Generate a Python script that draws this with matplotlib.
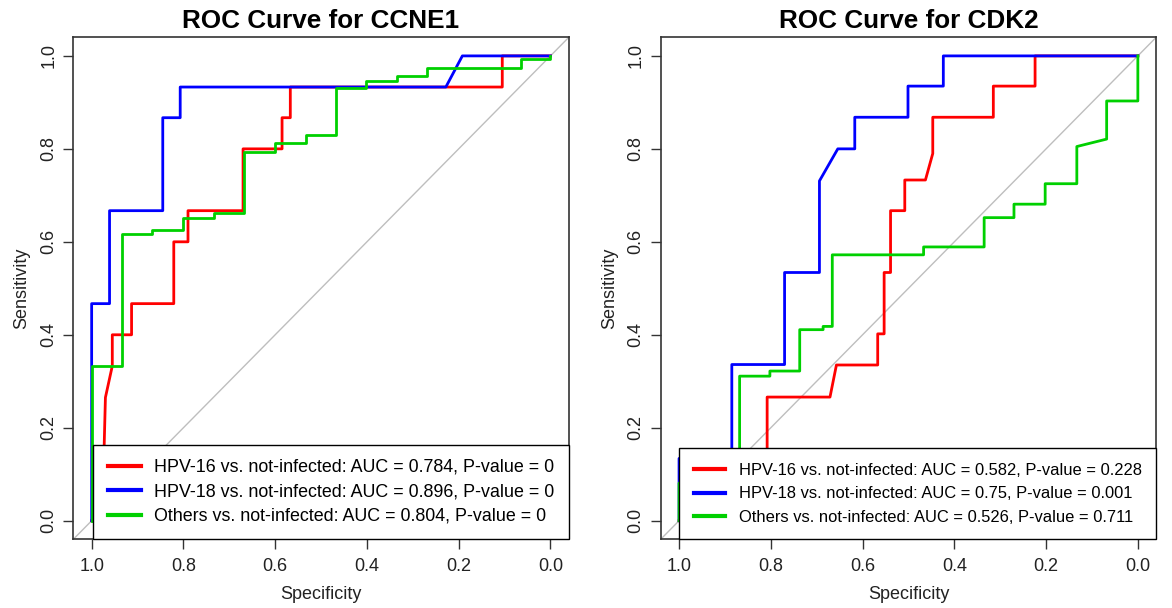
import matplotlib
matplotlib.use("Agg")
import matplotlib.pyplot as plt

plt.rcParams['font.family'] = ['Liberation Sans', 'DejaVu Sans']

# ---- data (specificity, sensitivity) ----
# CCNE1
ccne1_hpv16_spec = [1.0, 0.985, 0.973, 0.970, 0.955, 0.955, 0.913, 0.913, 0.821, 0.821, 0.790, 0.790,
                    0.670, 0.670, 0.585, 0.585, 0.567, 0.567, 0.105, 0.105, 0.0]
ccne1_hpv16_sens = [0.0, 0.0, 0.150, 0.265, 0.333, 0.400, 0.400, 0.467, 0.467, 0.600, 0.600, 0.667,
                    0.667, 0.800, 0.800, 0.867, 0.867, 0.933, 0.933, 1.0, 1.0]

ccne1_hpv18_spec = [1.0, 1.0, 0.961, 0.961, 0.845, 0.845, 0.807, 0.807, 0.228, 0.192, 0.0]
ccne1_hpv18_sens = [0.0, 0.467, 0.467, 0.667, 0.667, 0.867, 0.867, 0.933, 0.933, 1.0, 1.0]

ccne1_other_spec = [1.0, 1.0, 0.933, 0.933, 0.868, 0.868, 0.801, 0.801, 0.734, 0.734, 0.667, 0.667,
                    0.600, 0.600, 0.533, 0.533, 0.467, 0.467, 0.402, 0.402, 0.334, 0.334, 0.268, 0.268,
                    0.065, 0.065, 0.0, 0.0]
ccne1_other_sens = [0.0, 0.333, 0.333, 0.617, 0.617, 0.625, 0.625, 0.652, 0.652, 0.662, 0.662, 0.794,
                    0.794, 0.812, 0.812, 0.830, 0.830, 0.930, 0.930, 0.946, 0.946, 0.957, 0.957, 0.974,
                    0.974, 0.993, 0.993, 1.0]

# CDK2
cdk2_hpv16_spec = [1.0, 0.808, 0.808, 0.671, 0.657, 0.567, 0.567, 0.553, 0.553, 0.539, 0.539, 0.508,
                   0.508, 0.463, 0.447, 0.447, 0.315, 0.315, 0.224, 0.224, 0.0]
cdk2_hpv16_sens = [0.0, 0.0, 0.266, 0.266, 0.335, 0.335, 0.402, 0.402, 0.534, 0.534, 0.667, 0.667,
                   0.733, 0.733, 0.790, 0.868, 0.868, 0.935, 0.935, 1.0, 1.0]

cdk2_hpv18_spec = [1.0, 1.0, 0.885, 0.885, 0.770, 0.770, 0.694, 0.694, 0.654, 0.617, 0.617, 0.501,
                   0.501, 0.424, 0.424, 0.0]
cdk2_hpv18_sens = [0.0, 0.134, 0.134, 0.336, 0.336, 0.534, 0.534, 0.731, 0.800, 0.800, 0.868, 0.868,
                   0.935, 0.935, 1.0, 1.0]

cdk2_other_spec = [1.0, 1.0, 0.868, 0.868, 0.802, 0.802, 0.737, 0.737, 0.686, 0.686, 0.666, 0.666,
                   0.467, 0.467, 0.335, 0.335, 0.270, 0.270, 0.202, 0.202, 0.133, 0.133, 0.068, 0.068,
                   0.0, 0.0]
cdk2_other_sens = [0.0, 0.081, 0.081, 0.311, 0.311, 0.322, 0.322, 0.411, 0.411, 0.418, 0.418, 0.572,
                   0.572, 0.589, 0.589, 0.652, 0.652, 0.681, 0.681, 0.725, 0.725, 0.805, 0.821, 0.903,
                   0.903, 1.0]

genes = ["CCNE1", "CDK2"]
groups = ["HPV-16", "HPV-18", "Others"]
colors = ["#FF0000", "#0000FF", "#00D000"]
auc = {"CCNE1": ["0.784", "0.896", "0.804"], "CDK2": ["0.582", "0.75", "0.526"]}
pval = {"CCNE1": ["0", "0", "0"], "CDK2": ["0.228", "0.001", "0.711"]}

curves = {
    "CCNE1": [(ccne1_hpv16_spec, ccne1_hpv16_sens),
              (ccne1_hpv18_spec, ccne1_hpv18_sens),
              (ccne1_other_spec, ccne1_other_sens)],
    "CDK2": [(cdk2_hpv16_spec, cdk2_hpv16_sens),
             (cdk2_hpv18_spec, cdk2_hpv18_sens),
             (cdk2_other_spec, cdk2_other_sens)],
}

ticks = [1.0, 0.8, 0.6, 0.4, 0.2, 0.0]
tick_labels = ["1.0", "0.8", "0.6", "0.4", "0.2", "0.0"]

# per-panel legend look (the two panels were not rendered at quite the same scale)
leg_style = {
    "CCNE1": dict(fontsize=12.9, handlelength=1.85, handletextpad=0.74, labelspacing=0.42, borderpad=0.8),
    "CDK2": dict(fontsize=11.9, handlelength=1.92, handletextpad=0.82, labelspacing=0.52, borderpad=0.87),
}

fig = plt.figure(figsize=(11.72, 6.08), dpi=100)
W, H = 1172, 608
ax_left = [73.3 / W, 660.7 / W]

for i, gene in enumerate(genes):
    ax = fig.add_axes([ax_left[i], 68.7 / H, 495.5 / W, 502 / H])

    # chance line
    ax.axline((1, 0), (0, 1), color="#BEBEBE", lw=1, zorder=1)

    for j, (sp, se) in enumerate(curves[gene]):
        lab = f"{groups[j]} vs. not-infected: AUC = {auc[gene][j]}, P-value = {pval[gene][j]}"
        ax.plot(sp, se, color=colors[j], lw=2, label=lab, zorder=2)

    ax.set_xlim(1.04, -0.04)
    ax.set_ylim(-0.04, 1.04)
    ax.set_xticks(ticks)
    ax.set_xticklabels(tick_labels)
    ax.set_yticks(ticks)
    ax.set_yticklabels(tick_labels)
    ax.tick_params(axis="both", length=7.5, width=1, color="#333333", labelsize=13,
                   labelcolor="#222222", pad=6)
    ax.tick_params(axis="y", pad=4)
    for lbl in ax.get_yticklabels():
        lbl.set_rotation(90)
        lbl.set_va("center")
    for s in ax.spines.values():
        s.set_color("#333333")
        s.set_linewidth(1.2)

    ax.set_title(f"ROC Curve for {gene}", fontsize=18.8, fontweight="bold", pad=7)
    ax.set_xlabel("Specificity", fontsize=13, color="#222222", labelpad=8)
    ax.set_ylabel("Sensitivity", fontsize=13, color="#222222", labelpad=7)

    leg = ax.legend(loc="lower right", bbox_to_anchor=(1, 0), borderaxespad=0,
                    fancybox=False, framealpha=1, edgecolor="black", **leg_style[gene])
    leg.get_frame().set_linewidth(1)
    for line in leg.get_lines():
        line.set_linewidth(3)

fig.savefig("out.png", dpi=100)
